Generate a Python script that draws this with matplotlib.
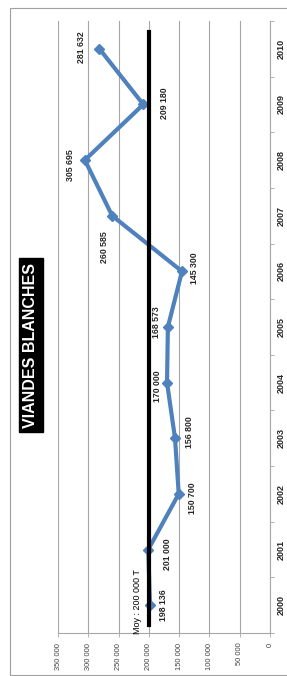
import matplotlib.pyplot as plt
from matplotlib.patches import Rectangle

years = [2000, 2001, 2002, 2003, 2004, 2005, 2006, 2007, 2008, 2009, 2010]
tonnes = [198136, 201000, 150700, 156800, 170000, 168573, 145300,
          260585, 305695, 209180, 281632]
# where each data label sits relative to its point (pixels, chart as drawn)
label_offsets = [(14, 0), (19, -5), (14, -4), (14, 6), (-10, -4), (-11, 5),
                 (13, 3), (-8, -31), (-14, -5), (21, 1), (-18, 2)]
moyenne = 200000
value_ticks = [0, 50000, 100000, 150000, 200000, 250000, 300000, 350000]
title = 'VIANDES BLANCHES'

blue = '#4F81BD'
grid_grey = '#A6A6A6'


def fmt(v):
    return '{:,}'.format(v).replace(',', ' ')


plt.rcParams['font.family'] = ['Liberation Sans', 'DejaVu Sans']

fig = plt.figure(figsize=(2.87, 6.76), dpi=100)
fig.patches.append(Rectangle((10 / 287, 1 / 676), 1.0, 667 / 676,
                             transform=fig.transFigure, fill=False,
                             edgecolor='#A0A0A0', lw=0.8))

ax = fig.add_axes([58 / 287, 43 / 676, 212 / 287, 612 / 676])

# the chart is drawn turned a quarter: values run right to left
ax.plot(tonnes, years, color=blue, lw=3, marker='D', ms=5, zorder=3)
ax.axvline(moyenne, ymin=0.013, ymax=0.982, color='black', lw=3, zorder=4)

for v, y, (dx, dy) in zip(tonnes, years, label_offsets):
    ax.annotate(fmt(v), (v, y), xytext=(dx, dy), textcoords='offset pixels',
                rotation=90, ha='center', va='center', fontsize=6.3,
                fontweight='bold', color='#262626', zorder=5)

ax.annotate('Moy : {} T'.format(fmt(moyenne)), (moyenne, years[0]),
            xytext=(-11, 4), textcoords='offset pixels', rotation=90,
            ha='center', va='center', fontsize=6.5, color='black', zorder=5)

ax.set_xlim(350000, 0)
ax.set_ylim(years[0] - 0.5, years[-1] + 0.5)
ax.set_xticks(value_ticks)
ax.set_xticklabels([fmt(t) for t in value_ticks], rotation=90,
                   fontsize=5.4, color='#404040')
ax.xaxis.grid(True, color=grid_grey, lw=0.8)
ax.tick_params(axis='x', length=3, width=0.6, color=grid_grey, pad=4)

ax.yaxis.tick_right()
ax.set_yticks(years)
ax.set_yticklabels([str(y) for y in years], rotation=90, va='center',
                   fontsize=6.5, fontweight='bold', color='#262626')
ax.set_yticks([y + 0.5 for y in years[:-1]] + [years[0] - 0.5, years[-1] + 0.5],
              minor=True)
ax.tick_params(axis='y', which='major', length=0, pad=4.5)
ax.tick_params(axis='y', which='minor', length=3, width=0.6, color=grid_grey)

for side in ['top', 'left']:
    ax.spines[side].set_visible(False)
for side in ['bottom', 'right']:
    ax.spines[side].set_color(grid_grey)
    ax.spines[side].set_linewidth(0.8)

fig.text(31 / 287, 1 - 345 / 676, title, rotation=90, ha='center',
         va='center', fontsize=11.5, fontweight='bold', color='white',
         bbox=dict(facecolor='black', edgecolor='black', pad=3))

fig.savefig('out.png', dpi=100)
